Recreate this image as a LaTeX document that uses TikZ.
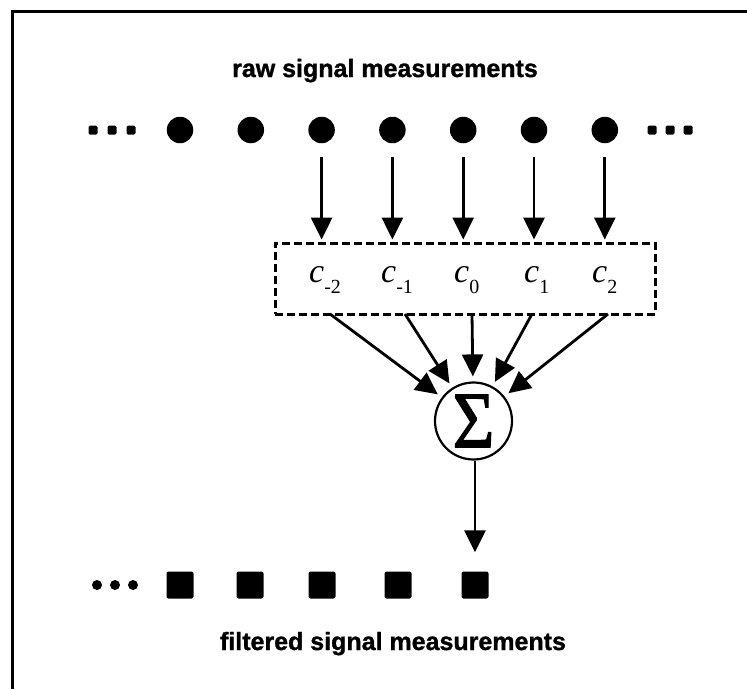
\documentclass[tikz,border=0pt]{standalone}
\usepackage{fontspec}
\setmainfont{Liberation Serif}
\newfontfamily\headfont[FakeBold=1.2]{Liberation Sans Bold}
\newfontfamily\sigmafont[FakeBold=1.5]{Liberation Serif}
\usetikzlibrary{arrows.meta}
\newcommand{\coefsub}[1]{\raisebox{-11pt}{\fontsize{20}{22}\selectfont\upshape #1}}
\begin{document}
\begin{tikzpicture}[x=1pt,y=-1pt,
  heading/.style={font=\headfont\fontsize{25}{30}\selectfont, inner sep=0pt, anchor=base},
  rawpt/.style={circle, fill=black, inner sep=0pt, minimum size=26.5pt},
  outpt/.style={rectangle, rounded corners=2pt, fill=black, inner sep=0pt, minimum size=27pt},
  smalldot/.style={rectangle, rounded corners=1.5pt, fill=black, inner sep=0pt, minimum size=9pt},
  roundot/.style={circle, fill=black, inner sep=0pt, minimum size=10pt},
  coef/.style={font=\fontsize{34}{38}\selectfont\itshape, inner sep=0pt, anchor=base west},
  arr/.style={line width=2.8pt, -{Triangle[length=22pt,width=21pt]}},
  frameline/.style={line width=3pt},
  kernel/.style={draw, line width=3pt, dash pattern=on 8pt off 4pt, inner sep=0pt},
  sumnode/.style={circle, draw, line width=2.2pt, minimum size=77pt, inner sep=0pt}
]
\useasboundingbox (0,0) rectangle (747,689);
% frame (top and left edges)
\draw[frameline] (12.5,689) |- (747,11.5);

% heading
\node[heading] (title) at (385,77) {raw signal measurements};

% raw measurements
\node[smalldot] (la) at (93,130) {};
\node[smalldot] (lb) at (112,130) {};
\node[smalldot] (lc) at (131,130) {};
\foreach \i/\x in {1/180,2/250.8,3/321.6,4/392.4,5/463.2,6/534,7/604.8}
  \node[rawpt] (r\i) at (\x,130) {};
\node[smalldot] (ra) at (652,130) {};
\node[smalldot] (rb) at (670,130) {};
\node[smalldot] (rc) at (688,130) {};

% kernel box
\node[kernel, minimum width=380pt, minimum height=71pt] (box) at (465,278.5) {};

% coefficients
\node[coef] (c1) at (309,282) {c\coefsub{-2}};
\node[coef] (c2) at (381,282) {c\coefsub{-1}};
\node[coef] (c3) at (454,282) {c\coefsub{0}};
\node[coef] (c4) at (524,282) {c\coefsub{1}};
\node[coef] (c5) at (592,282) {c\coefsub{2}};

% arrows from raw measurements into the box
\foreach \i in {3,...,7}
  \draw[arr, shorten <=14pt, shorten >=2pt] (r\i) -- (r\i |- box.north);

% summation node
\node[sumnode] (sig) at (473.5,421) {};
\node[font=\sigmafont\fontsize{80}{80}\selectfont, inner sep=0pt] (sigma) at (sig.center) {\scalebox{0.9}[1]{Σ}};

% arrows from the box into the sum
\coordinate (b1) at (330,314);
\coordinate (b2) at (405,314);
\coordinate (b3) at (472,314);
\coordinate (b4) at (532,314);
\coordinate (b5) at (608,314);
\foreach \i in {1,...,5}
  \draw[arr, shorten >=5pt] (b\i) -- (sig);

% filtered measurements
\node[roundot] (fa) at (97,585) {};
\node[roundot] (fb) at (115,585) {};
\node[roundot] (fc) at (133,585) {};
\foreach \i/\x in {1/180,2/250,3/322,4/398,5/475}
  \node[outpt] (o\i) at (\x,585) {};

\draw[arr, shorten >=19pt] (o5 |- sig.south) -- (o5.north);

\node[heading] (foot) at (393,650) {filtered signal measurements};
\end{tikzpicture}
\end{document}
